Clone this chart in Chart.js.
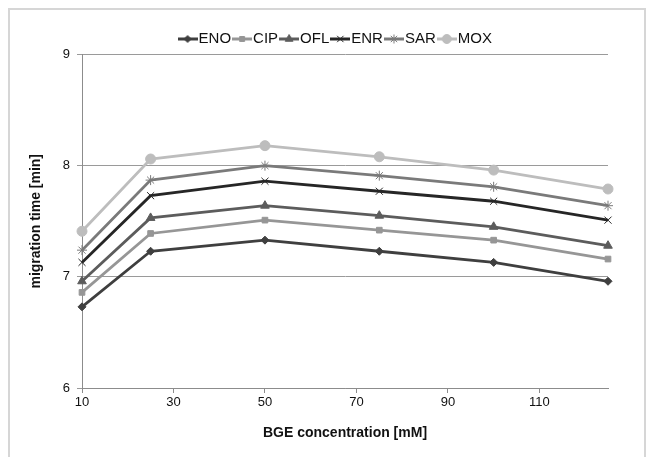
<!DOCTYPE html>
<html>
<head>
<meta charset="utf-8">
<script src="https://cdn.jsdelivr.net/npm/chart.js@4.4.1/dist/chart.umd.min.js"></script>
<style>
  body { margin: 0; background: #fff; }
  #wrap { position: relative; width: 654px; height: 457px; overflow: hidden; }
  #frame { position: absolute; left: 8px; top: 8px; width: 638px; height: 470px; border: 2px solid #d6d6d6; box-sizing: border-box; pointer-events: none; }
  canvas { position: absolute; left: 0; top: 0; }
</style>
</head>
<body>
<div id="wrap">
  <canvas id="LineChart" width="654" height="457"></canvas>
  <div id="frame"></div>
</div>
<script>
// data
const concentrations = [10, 25, 50, 75, 100, 125];
const xTicks = [10, 30, 50, 70, 90, 110];
const yTicks = [6, 7, 8, 9];

const ENO = [6.73, 7.23, 7.33, 7.23, 7.13, 6.96];
const CIP = [6.86, 7.39, 7.51, 7.42, 7.33, 7.16];
const OFL = [6.96, 7.53, 7.64, 7.55, 7.45, 7.28];
const ENR = [7.13, 7.73, 7.86, 7.77, 7.68, 7.51];
const SAR = [7.24, 7.87, 8.00, 7.91, 7.81, 7.64];
const MOX = [7.41, 8.06, 8.18, 8.08, 7.96, 7.79];

const names = ['ENO', 'CIP', 'OFL', 'ENR', 'SAR', 'MOX'];
const series = [ENO, CIP, OFL, ENR, SAR, MOX];
const colors = ['#3f3f3f', '#969696', '#5c5c5c', '#262626', '#7a7a7a', '#bdbdbd'];
const markers = ['rectRot', 'rect', 'triangle', 'crossRot', 'star', 'circle'];
const radii = [4, 4, 5, 5, 5, 5];

function toPoints(vals) {
    return vals.map((v, i) => ({ x: concentrations[i], y: v }));
}

// little line+marker picture for the legend
function legendSymbol(i) {
    const c = document.createElement('canvas');
    c.width = 20; c.height = 14;
    const ctx = c.getContext('2d');
    ctx.strokeStyle = colors[i];
    ctx.lineWidth = 3;
    ctx.beginPath();
    ctx.moveTo(0, 7); ctx.lineTo(20, 7);
    ctx.stroke();
    ctx.fillStyle = colors[i];
    ctx.lineWidth = 1;
    Chart.helpers.drawPoint(ctx, { pointStyle: markers[i], radius: radii[i] - 0.5, borderWidth: 1, rotation: 0 }, 10, 7);
    return c;
}

const datasets = names.map((n, i) => ({
    label: n,
    data: toPoints(series[i]),
    borderColor: colors[i],
    backgroundColor: colors[i],
    borderWidth: 2.8,
    pointStyle: markers[i],
    pointRadius: radii[i],
    pointBorderWidth: 1,
    pointBorderColor: colors[i],
    pointBackgroundColor: colors[i],
    tension: 0,
    fill: false,
    clip: false
}));

// nudge the legend a little left/down, like the original
const legendShift = {
    id: 'legendShift',
    afterLayout(chart) {
        const lg = chart.legend;
        lg.left -= 7; lg.right -= 7;
        lg.top += 2; lg.bottom += 2;
    }
};

Chart.defaults.font.family = '"Liberation Sans", Arial, sans-serif';
Chart.defaults.color = '#111';

const LINE_CANVAS = document.getElementById('LineChart');
var LineChart = new Chart(LINE_CANVAS, {
    type: 'line',
    data: { datasets: datasets },
    plugins: [legendShift],
    options: {
        responsive: false,
        animation: false,
        layout: { padding: { left: 28, right: 46, top: 22, bottom: 15 } },
        plugins: {
            tooltip: { enabled: false },
            legend: {
                position: 'top',
                fullSize: false,
                labels: {
                    usePointStyle: true,
                    pointStyleWidth: 7,
                    padding: 7.5,
                    font: { size: 15 },
                    color: '#111',
                    generateLabels: (chart) => chart.data.datasets.map((d, i) => ({
                        text: d.label,
                        pointStyle: legendSymbol(i),
                        fillStyle: colors[i],
                        strokeStyle: colors[i],
                        lineWidth: 0,
                        datasetIndex: i,
                        fontColor: '#111'
                    }))
                }
            }
        },
        scales: {
            x: {
                type: 'linear',
                min: 10,
                max: 125,
                afterBuildTicks: (scale) => { scale.ticks = xTicks.map(v => ({ value: v })); },
                afterFit: (scale) => { scale.height = 54; },
                grid: { drawOnChartArea: false, drawTicks: true, tickLength: 5, color: '#8c8c8c' },
                border: { display: true, color: '#8c8c8c', width: 1 },
                ticks: { font: { size: 13 }, color: '#111', padding: 2, maxRotation: 0 },
                title: { display: true, text: 'BGE concentration [mM]', font: { size: 14, weight: 'bold' }, color: '#111', padding: { top: 0, bottom: 0 } }
            },
            y: {
                min: 6,
                max: 9,
                afterBuildTicks: (scale) => { scale.ticks = yTicks.map(v => ({ value: v })); },
                afterFit: (scale) => { scale.width = 54; },
                grid: { color: '#9a9a9a', tickLength: 5, drawTicks: true },
                border: { display: true, color: '#8c8c8c', width: 1 },
                ticks: { font: { size: 13 }, color: '#111', padding: 7 },
                title: { display: true, text: 'migration time [min]', font: { size: 14, weight: 'bold' }, color: '#111', padding: { top: 0, bottom: 0 } }
            }
        }
    }
});
</script>
</body>
</html>
